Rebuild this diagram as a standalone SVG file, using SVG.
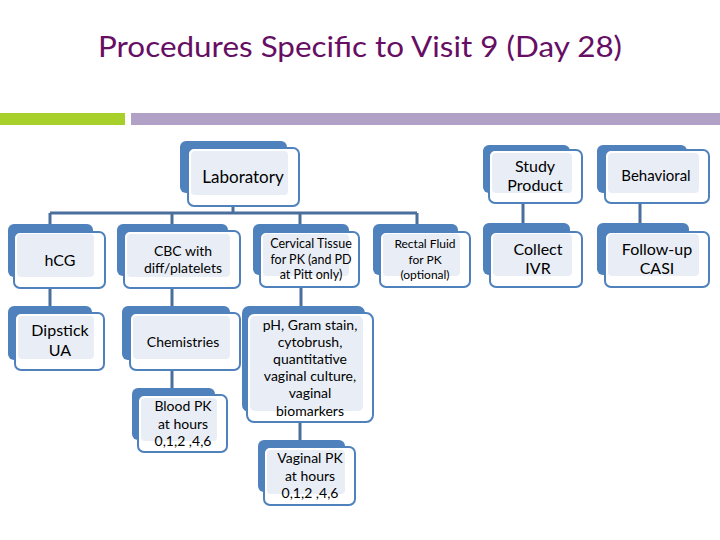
<svg xmlns="http://www.w3.org/2000/svg" width="720" height="540" viewBox="0 0 720 540">
<style>
.bk{fill:#4f81bd}
.fr{fill:#ffffff;stroke:#4f81bd;stroke-width:2}
.in{fill:#e9eef6}
.t{font-family:Lato,"Liberation Sans",sans-serif;fill:#000;text-anchor:middle}
.c{stroke:#4a6f9c;stroke-width:3;fill:none}
</style>
<rect x="0" y="0" width="720" height="540" fill="#ffffff"/>
<text x="360" y="57" font-family="Lato,'Liberation Sans',sans-serif" font-size="29" fill="#660e64" text-anchor="middle" textLength="524" lengthAdjust="spacingAndGlyphs">Procedures Specific to Visit 9 (Day 28)</text>
<rect x="0" y="113" width="125" height="12" fill="#a8d02a"/>
<rect x="131" y="113" width="589" height="12" fill="#b1a1c7"/>
<g id="connectors" class="c">
<path d="M50 213H417M233 206V213M50 213V224M172 213V224M300 213V224M417 213V224"/>
<path d="M50 288V306M172 288V306M301 287V306M172 370V388M300 422V440M523 203V223M640 203V223"/>
</g>
<g id="laboratory"><rect class="bk" x="180" y="141" width="107" height="52" rx="6"/><rect class="fr" x="188" y="148" width="111" height="58" rx="6"/><rect class="in" x="191" y="151" width="97" height="44" rx="4"/><text class="t" x="243" y="183" font-size="17">Laboratory</text></g>
<g id="study-product"><rect class="bk" x="483" y="145" width="87" height="48" rx="6"/><rect class="fr" x="489" y="150" width="93" height="53" rx="6"/><rect class="in" x="492" y="153" width="80" height="40" rx="4"/><text class="t" x="535" y="172" font-size="16">Study</text><text class="t" x="535" y="191" font-size="16">Product</text></g>
<g id="behavioral"><rect class="bk" x="597" y="145" width="90" height="48" rx="6"/><rect class="fr" x="605" y="150" width="104" height="53" rx="6"/><rect class="in" x="608" y="153" width="91" height="40" rx="4"/><text class="t" x="656" y="181" font-size="15">Behavioral</text></g>
<g id="hcg"><rect class="bk" x="8" y="224" width="85" height="53" rx="6"/><rect class="fr" x="14" y="232" width="91" height="56" rx="6"/><rect class="in" x="17" y="234" width="77" height="43" rx="4"/><text class="t" x="60" y="266" font-size="16">hCG</text></g>
<g id="cbc"><rect class="bk" x="117" y="224" width="111" height="52" rx="6"/><rect class="fr" x="124" y="231" width="116" height="57" rx="6"/><rect class="in" x="127" y="234" width="103" height="43" rx="4"/><text class="t" x="183" y="256" font-size="14">CBC with</text><text class="t" x="183" y="273" font-size="14">diff/platelets</text></g>
<g id="cervical"><rect class="bk" x="253" y="224" width="96" height="51" rx="6"/><rect class="fr" x="260" y="232" width="99" height="55" rx="6"/><rect class="in" x="263" y="234" width="86" height="42" rx="4"/><text class="t" x="311" y="248" font-size="12.5">Cervical Tissue</text><text class="t" x="311" y="264" font-size="12.5">for PK (and PD</text><text class="t" x="311" y="279" font-size="12.5">at Pitt only)</text></g>
<g id="rectal"><rect class="bk" x="373" y="224" width="85" height="51" rx="6"/><rect class="fr" x="380" y="232" width="90" height="55" rx="6"/><rect class="in" x="383" y="234" width="77" height="42" rx="4"/><text class="t" x="425" y="248" font-size="12">Rectal Fluid</text><text class="t" x="425" y="264" font-size="12">for PK</text><text class="t" x="425" y="279" font-size="12">(optional)</text></g>
<g id="collect-ivr"><rect class="bk" x="483" y="223" width="87" height="52" rx="6"/><rect class="fr" x="490" y="232" width="92" height="55" rx="6"/><rect class="in" x="493" y="234" width="79" height="42" rx="4"/><text class="t" x="538" y="255" font-size="16">Collect</text><text class="t" x="538" y="274" font-size="16">IVR</text></g>
<g id="follow-up"><rect class="bk" x="597" y="223" width="92" height="52" rx="6"/><rect class="fr" x="605" y="232" width="104" height="55" rx="6"/><rect class="in" x="608" y="234" width="91" height="42" rx="4"/><text class="t" x="657" y="255" font-size="16">Follow-up</text><text class="t" x="657" y="274" font-size="16">CASI</text></g>
<g id="dipstick"><rect class="bk" x="8" y="306" width="84" height="54" rx="6"/><rect class="fr" x="15" y="313" width="89" height="57" rx="6"/><rect class="in" x="18" y="316" width="76" height="43" rx="4"/><text class="t" x="60" y="336" font-size="16">Dipstick</text><text class="t" x="60" y="356" font-size="16">UA</text></g>
<g id="chemistries"><rect class="bk" x="122" y="306" width="108" height="54" rx="6"/><rect class="fr" x="130" y="313" width="110" height="57" rx="6"/><rect class="in" x="133" y="316" width="97" height="43" rx="4"/><text class="t" x="183" y="347" font-size="14">Chemistries</text></g>
<g id="ph"><rect class="bk" x="242" y="306" width="123" height="106" rx="7"/><rect class="fr" x="247" y="313" width="126" height="109" rx="7"/><rect class="in" x="250" y="316" width="113" height="95" rx="5"/><text class="t" x="310" y="330" font-size="14">pH, Gram  stain,</text><text class="t" x="310" y="347" font-size="14">cytobrush,</text><text class="t" x="310" y="364" font-size="14">quantitative</text><text class="t" x="310" y="381" font-size="14">vaginal culture,</text><text class="t" x="310" y="398" font-size="14">vaginal</text><text class="t" x="310" y="416" font-size="14">biomarkers</text></g>
<g id="blood-pk"><rect class="bk" x="132" y="388" width="83" height="52" rx="6"/><rect class="fr" x="138" y="395" width="89" height="57" rx="6"/><rect class="in" x="141" y="398" width="76" height="43" rx="4"/><text class="t" x="183" y="411" font-size="14">Blood PK</text><text class="t" x="183" y="429" font-size="14">at hours</text><text class="t" x="183" y="446" font-size="14">0,1,2 ,4,6</text></g>
<g id="vaginal-pk"><rect class="bk" x="258" y="440" width="87" height="52" rx="6"/><rect class="fr" x="264" y="447" width="91" height="58" rx="6"/><rect class="in" x="267" y="450" width="78" height="44" rx="4"/><text class="t" x="310" y="463" font-size="14">Vaginal PK</text><text class="t" x="310" y="481" font-size="14">at hours</text><text class="t" x="310" y="498" font-size="14">0,1,2 ,4,6</text></g>
</svg>
